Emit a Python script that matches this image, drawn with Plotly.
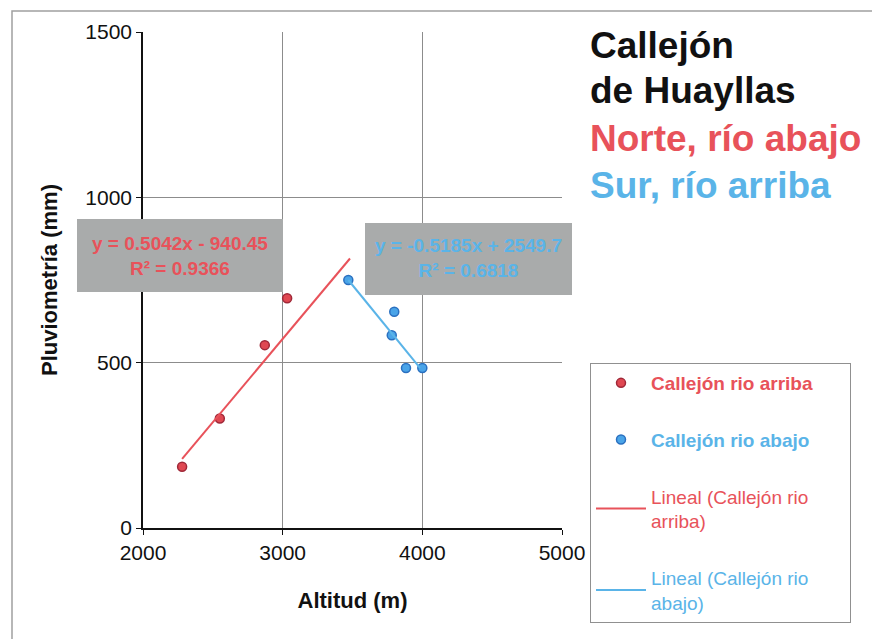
import plotly.graph_objects as go

# ---- data ----
arriba_x = [2280, 2550, 2872, 3032]
arriba_y = [185, 331, 553, 695]
abajo_x = [3470, 3799, 3781, 3883, 4000]
abajo_y = [750, 654, 583, 484, 484]

trend_arriba_x = [2280, 3482]
trend_arriba_y = [209, 815]
trend_abajo_x = [3470, 3983]
trend_abajo_y = [750, 484]

eq_arriba = ["y = 0.5042x - 940.45", "R² = 0.9366"]
eq_abajo = ["y = -0.5185x + 2549.7", "R² = 0.6818"]

x_ticks = [2000, 3000, 4000, 5000]
y_ticks = [0, 500, 1000, 1500]

RED = "#e8525a"
BLUE = "#5ab4e8"
FONT = "Arial, 'Liberation Sans', sans-serif"

W, H = 872, 639
L, R, T, B = 143, 310, 32, 111
pw, ph = W - L - R, H - T - B


def px(x):
    return (x - L) / pw


def py(y):
    return (H - B - y) / ph


def col(txt, c, bold=False):
    t = "<b>%s</b>" % txt if bold else txt
    return "<span style='color:%s'>%s</span>" % (c, t)


fig = go.Figure()
fig.add_trace(go.Scatter(
    x=arriba_x, y=arriba_y, mode="markers",
    name=col("Callejón rio arriba", RED, True) + "&nbsp;" * 6, legendgroup="a",
    marker=dict(symbol="circle", size=9, color="#e04852",
                line=dict(color="#a02838", width=1.5)),
))
fig.add_trace(go.Scatter(
    x=abajo_x, y=abajo_y, mode="markers",
    name=col("Callejón rio abajo", BLUE, True), legendgroup="b",
    marker=dict(symbol="circle", size=9, color="#4aa4e8",
                line=dict(color="#2a70c0", width=1.5)),
))
fig.add_trace(go.Scatter(
    x=trend_arriba_x, y=trend_arriba_y, mode="lines",
    name=col("Lineal (Callejón rio", RED) + "<br>" + col("arriba)", RED), legendgroup="c",
    line=dict(color=RED, width=2),
))
fig.add_trace(go.Scatter(
    x=trend_abajo_x, y=trend_abajo_y, mode="lines",
    name=col("Lineal (Callejón rio", BLUE) + "<br>" + col("abajo)", BLUE), legendgroup="d",
    line=dict(color=BLUE, width=2),
))

shapes = [
    # outer border
    dict(type="rect", xref="paper", yref="paper",
         x0=px(12), x1=px(890), y0=py(660), y1=py(11),
         line=dict(color="#a0a0a0", width=1.5), layer="below"),
    # gray equation boxes
    dict(type="rect", xref="paper", yref="paper",
         x0=px(77), x1=px(283), y0=py(292), y1=py(219),
         fillcolor="#a9abab", line=dict(width=0), layer="above"),
    dict(type="rect", xref="paper", yref="paper",
         x0=px(365), x1=px(572), y0=py(295), y1=py(223),
         fillcolor="#a9abab", line=dict(width=0), layer="above"),
]

annotations = [
    dict(text="<b>" + "<br>".join(eq_arriba) + "</b>", xref="paper", yref="paper",
         x=px(180), y=py(256), xanchor="center", yanchor="middle", showarrow=False,
         font=dict(family=FONT, size=19, color=RED), align="center"),
    dict(text="<b>" + "<br>".join(eq_abajo) + "</b>", xref="paper", yref="paper",
         x=px(468), y=py(258), xanchor="center", yanchor="middle", showarrow=False,
         font=dict(family=FONT, size=19, color=BLUE), align="center"),
]
titles = [("Callejón", "#111111", 46), ("de Huayllas", "#111111", 91),
          ("Norte, río abajo", RED, 138), ("Sur, río arriba", BLUE, 186)]
for txt, c, yc in titles:
    annotations.append(dict(text="<b>" + txt + "</b>", xref="paper", yref="paper",
                            x=px(588), y=py(yc), xanchor="left", yanchor="middle",
                            showarrow=False,
                            font=dict(family=FONT, size=37, color=c)))

fig.update_layout(
    width=W, height=H,
    margin=dict(l=L, r=R, t=T, b=B, autoexpand=False),
    paper_bgcolor="white", plot_bgcolor="white",
    font=dict(family=FONT, size=19, color="#111111"),
    shapes=shapes, annotations=annotations,
    showlegend=True,
    legend=dict(xref="container", yref="container",
                x=590 / W, y=1 - 363 / H, xanchor="left", yanchor="top",
                bordercolor="#909090", borderwidth=1, bgcolor="white",
                font=dict(family=FONT, size=19, color="#333333"),
                tracegroupgap=29, itemwidth=50),
    xaxis=dict(range=[2000, 5000], tickvals=x_ticks,
               showgrid=True, gridcolor="#8c8c8c", gridwidth=1,
               showline=True, linecolor="#111111", linewidth=1.5,
               ticks="outside", ticklen=5, tickcolor="#111111",
               zeroline=False,
               title=dict(text="<b>Altitud (m)</b>", font=dict(size=22), standoff=30),
               tickfont=dict(size=21)),
    yaxis=dict(range=[0, 1500], tickvals=y_ticks,
               showgrid=True, gridcolor="#8c8c8c", gridwidth=1,
               showline=True, linecolor="#111111", linewidth=1.5,
               ticks="outside", ticklen=5, tickcolor="#111111",
               zeroline=False,
               title=dict(text="<b>Pluviometría (mm)</b>", font=dict(size=22), standoff=22),
               tickfont=dict(size=21)),
)

fig.write_html("out.html")
